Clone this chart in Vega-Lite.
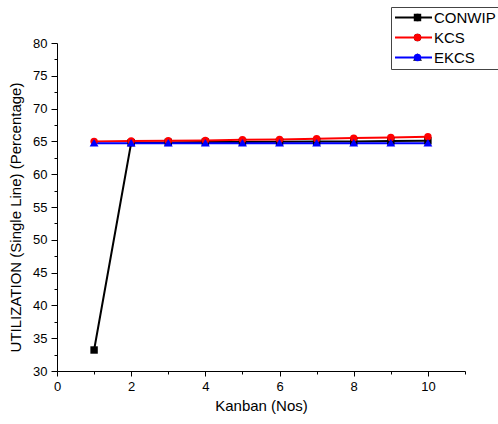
{
  "$schema": "https://vega.github.io/schema/vega-lite/v6.json",
  "autosize": "none",
  "width": 408,
  "height": 328,
  "padding": {"left": 57, "top": 43, "right": 33, "bottom": 53},
  "background": "white",
  "config": {
    "view": {"stroke": null},
    "font": "Liberation Sans",
    "axis": {
      "grid": false,
      "domainColor": "#000000",
      "domainWidth": 1,
      "tickColor": "#000000",
      "tickWidth": 1,
      "labelColor": "#000000",
      "labelFont": "Liberation Sans",
      "labelFontSize": 13,
      "titleColor": "#000000",
      "titleFont": "Liberation Sans",
      "titleFontSize": 15,
      "titleFontWeight": "normal"
    }
  },
  "data": {
    "values": [
      {"kanban": 1, "series": "CONWIP", "value": 33.2},
      {"kanban": 2, "series": "CONWIP", "value": 64.8},
      {"kanban": 3, "series": "CONWIP", "value": 64.85},
      {"kanban": 4, "series": "CONWIP", "value": 64.9},
      {"kanban": 5, "series": "CONWIP", "value": 64.9},
      {"kanban": 6, "series": "CONWIP", "value": 64.95},
      {"kanban": 7, "series": "CONWIP", "value": 65.0},
      {"kanban": 8, "series": "CONWIP", "value": 65.0},
      {"kanban": 9, "series": "CONWIP", "value": 65.05},
      {"kanban": 10, "series": "CONWIP", "value": 65.1},
      {"kanban": 1, "series": "KCS", "value": 65.0},
      {"kanban": 2, "series": "KCS", "value": 65.05},
      {"kanban": 3, "series": "KCS", "value": 65.1},
      {"kanban": 4, "series": "KCS", "value": 65.15},
      {"kanban": 5, "series": "KCS", "value": 65.25},
      {"kanban": 6, "series": "KCS", "value": 65.3},
      {"kanban": 7, "series": "KCS", "value": 65.4},
      {"kanban": 8, "series": "KCS", "value": 65.5},
      {"kanban": 9, "series": "KCS", "value": 65.6},
      {"kanban": 10, "series": "KCS", "value": 65.7},
      {"kanban": 1, "series": "EKCS", "value": 64.7},
      {"kanban": 2, "series": "EKCS", "value": 64.7},
      {"kanban": 3, "series": "EKCS", "value": 64.7},
      {"kanban": 4, "series": "EKCS", "value": 64.7},
      {"kanban": 5, "series": "EKCS", "value": 64.7},
      {"kanban": 6, "series": "EKCS", "value": 64.7},
      {"kanban": 7, "series": "EKCS", "value": 64.72},
      {"kanban": 8, "series": "EKCS", "value": 64.72},
      {"kanban": 9, "series": "EKCS", "value": 64.72},
      {"kanban": 10, "series": "EKCS", "value": 64.72}
    ]
  },
  "encoding": {
    "x": {
      "field": "kanban",
      "type": "quantitative",
      "scale": {"domain": [0, 11], "nice": false, "zero": false},
      "axis": {
        "title": "Kanban (Nos)",
        "values": [0, 1, 2, 3, 4, 5, 6, 7, 8, 9, 10, 11],
        "labelExpr": "(datum.value % 2 == 0 && datum.value <= 10) ? datum.label : ''",
        "tickSize": {"condition": {"test": "datum.value % 2 == 0", "value": 5}, "value": 3},
        "labelPadding": 4,
        "titlePadding": 5,
        "labelFlush": false,
        "labelOverlap": false
      }
    },
    "y": {
      "field": "value",
      "type": "quantitative",
      "scale": {"domain": [30, 80], "nice": false, "zero": false},
      "axis": {
        "title": "UTILIZATION (Single Line) (Percentage)",
        "values": [30, 32.5, 35, 37.5, 40, 42.5, 45, 47.5, 50, 52.5, 55, 57.5, 60, 62.5, 65, 67.5, 70, 72.5, 75, 77.5, 80],
        "labelExpr": "datum.value % 5 == 0 ? datum.label : ''",
        "tickSize": {"condition": {"test": "datum.value % 5 == 0", "value": 6}, "value": 3},
        "labelPadding": 4,
        "titlePadding": 9,
        "titleFontSize": 15,
        "titleY": 174,
        "labelFlush": false,
        "labelOverlap": false
      }
    },
    "color": {
      "field": "series",
      "type": "nominal",
      "scale": {"domain": ["CONWIP", "KCS", "EKCS"], "range": ["#000000", "#ff0000", "#0000ff"]}
    }
  },
  "layer": [
    {
      "mark": {"type": "line", "strokeWidth": 2},
      "encoding": {
        "color": {
          "field": "series",
          "type": "nominal",
          "scale": {"domain": ["CONWIP", "KCS", "EKCS"], "range": ["#000000", "#ff0000", "#0000ff"]},
          "legend": {
            "title": null,
            "orient": "none",
            "legendX": 334,
            "legendY": -36,
            "symbolType": "stroke",
            "symbolSize": 1369,
            "symbolStrokeWidth": 2,
            "clipHeight": 15,
            "rowPadding": 4,
            "padding": 3,
            "labelOffset": 1,
            "labelFont": "Liberation Sans",
            "labelFontSize": 15,
            "labelColor": "#000000",
            "strokeColor": "#444444",
            "fillColor": "white",
            "zindex": 1
          }
        }
      }
    },
    {
      "mark": {"type": "point", "filled": true, "opacity": 1, "size": 55},
      "encoding": {
        "shape": {
          "field": "series",
          "type": "nominal",
          "scale": {"domain": ["CONWIP", "KCS", "EKCS"], "range": ["square", "circle", "M0,-1.15L1.2,0.85L-1.2,0.85Z"]},
          "legend": {
            "title": null,
            "orient": "none",
            "legendX": 334,
            "legendY": -36,
            "symbolSize": 55,
            "symbolOffset": 16,
            "clipHeight": 15,
            "rowPadding": 4,
            "padding": 3,
            "labelOffset": 1,
            "labelFontSize": 15,
            "labelExpr": "''",
            "labelOpacity": 0,
            "zindex": 2
          }
        },
        "color": {
          "field": "series",
          "type": "nominal",
          "scale": {"domain": ["CONWIP", "KCS", "EKCS"], "range": ["#000000", "#ff0000", "#0000ff"]},
          "legend": {
            "title": null,
            "orient": "none",
            "legendX": 334,
            "legendY": -36,
            "symbolSize": 55,
            "symbolOffset": 16,
            "clipHeight": 15,
            "rowPadding": 4,
            "padding": 3,
            "labelOffset": 1,
            "labelFontSize": 15,
            "labelExpr": "''",
            "labelOpacity": 0,
            "zindex": 2
          }
        }
      }
    }
  ],
  "resolve": {"legend": {"color": "independent"}}
}
